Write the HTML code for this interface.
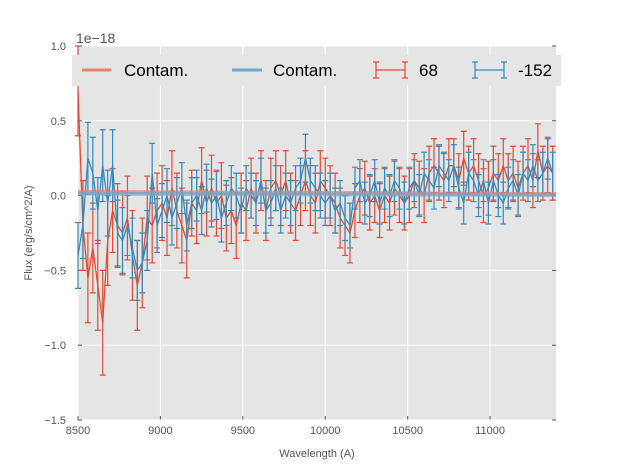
<!DOCTYPE html>
<html><head><meta charset="utf-8"><style>
body{margin:0;background:#fff;}
svg{display:block;font-family:"Liberation Sans",sans-serif;}
</style></head><body>
<svg id="c" width="617" height="467"></svg>
<script>
const xTicks=[8500,9000,9500,10000,10500,11000];
const yTicks=[-1.5,-1.0,-0.5,0.0,0.5,1.0];
const yTickLabels=["\u22121.5","\u22121.0","\u22120.5","0.0","0.5","1.0"];
const wlStart=8500, wlStep=30;
const redFlux=[0.7,-0.2,-0.55,-0.35,-0.6,-0.85,-0.3,-0.1,-0.2,-0.25,-0.15,-0.4,-0.6,-0.45,-0.15,-0.2,-0.1,-0.05,-0.15,0.05,-0.1,-0.2,-0.3,-0.05,-0.1,0.1,-0.05,0.05,-0.05,0.0,-0.15,-0.1,-0.2,-0.05,-0.1,0.05,-0.05,0.1,-0.1,0.05,0.1,0.0,0.1,-0.05,-0.1,0.0,0.1,0.0,-0.05,0.1,0.05,0.0,-0.05,-0.15,-0.2,-0.25,-0.1,0.0,0.05,-0.05,0.0,-0.1,0.0,-0.05,0.05,0.0,-0.05,0.0,0.1,0.05,0.0,0.15,0.2,0.15,0.1,0.2,0.2,0.1,0.25,0.15,0.2,0.1,0.0,0.05,0.15,0.1,0.2,0.1,0.15,0.05,0.15,0.2,0.1,0.3,0.15,0.2,0.15];
const redErr=[0.3,0.3,0.3,0.3,0.3,0.35,0.3,0.28,0.28,0.28,0.28,0.3,0.3,0.3,0.28,0.25,0.25,0.25,0.25,0.25,0.25,0.25,0.25,0.22,0.22,0.22,0.22,0.22,0.22,0.22,0.22,0.22,0.22,0.2,0.2,0.2,0.2,0.2,0.2,0.2,0.2,0.2,0.2,0.2,0.2,0.2,0.2,0.2,0.2,0.2,0.2,0.2,0.2,0.2,0.2,0.2,0.18,0.18,0.18,0.18,0.18,0.18,0.18,0.18,0.18,0.18,0.18,0.18,0.18,0.18,0.18,0.18,0.18,0.18,0.18,0.18,0.18,0.18,0.18,0.18,0.18,0.18,0.18,0.18,0.18,0.18,0.18,0.18,0.18,0.18,0.18,0.18,0.18,0.18,0.18,0.18,0.18];
const blueFlux=[-0.4,-0.2,0.25,0.15,-0.1,0.2,-0.05,0.2,-0.25,-0.3,-0.2,-0.35,-0.5,-0.45,-0.3,0.15,-0.2,-0.1,0.0,-0.15,-0.05,0.05,-0.2,-0.05,0.0,-0.1,0.05,-0.05,0.0,-0.15,-0.05,0.05,0.0,-0.1,0.05,0.0,-0.05,0.1,-0.1,-0.05,0.05,-0.1,0.0,-0.05,0.05,0.1,0.25,0.1,0.05,0.0,-0.05,0.0,-0.1,-0.05,-0.15,-0.2,0.05,0.1,-0.05,0.0,0.1,-0.05,0.05,0.0,0.1,0.05,-0.05,0.05,0.1,0.0,0.15,0.1,0.05,0.2,0.15,0.1,0.2,0.05,-0.05,0.15,0.1,0.0,0.1,-0.05,0.1,0.0,-0.05,0.05,0.1,0.0,0.15,0.1,0.2,0.1,0.15,0.25,0.15];
const blueErr=[0.22,0.22,0.24,0.24,0.22,0.24,0.22,0.24,0.22,0.22,0.2,0.2,0.2,0.2,0.2,0.2,0.18,0.18,0.18,0.18,0.17,0.17,0.17,0.17,0.17,0.16,0.16,0.16,0.16,0.16,0.15,0.15,0.15,0.15,0.15,0.15,0.15,0.15,0.15,0.15,0.15,0.15,0.15,0.15,0.15,0.15,0.16,0.15,0.15,0.15,0.15,0.15,0.15,0.15,0.15,0.15,0.14,0.14,0.14,0.14,0.14,0.14,0.14,0.14,0.14,0.14,0.14,0.14,0.14,0.14,0.14,0.14,0.14,0.14,0.14,0.14,0.14,0.14,0.14,0.14,0.14,0.14,0.14,0.14,0.14,0.14,0.14,0.14,0.14,0.14,0.14,0.14,0.14,0.14,0.14,0.14,0.14];
const redContam=[0.025,0.01];
const blueContam=[0.012,0.005];

const L=78,R=556,T=46,B=420;
const xMin=8500,xMax=11400,yMin=-1.5,yMax=1.0;
const X=v=>L+(v-xMin)/(xMax-xMin)*(R-L);
const Y=v=>B-(v-yMin)/(yMax-yMin)*(B-T);
const svg=document.getElementById('c');
const NS='http://www.w3.org/2000/svg';
function el(tag,attrs,parent){const e=document.createElementNS(NS,tag);for(const k in attrs)e.setAttribute(k,attrs[k]);(parent||svg).appendChild(e);return e;}

const bg=el('rect',{x:L,y:T,width:R-L,height:B-T,fill:'#e5e5e5'});



xTicks.forEach(t=>{
  const g=el('line',{x1:X(t),x2:X(t),y1:T,y2:B,stroke:'#fff','stroke-width':1});
  
  
  const tk=el('line',{x1:X(t),x2:X(t),y1:B,y2:B-4,stroke:'#555'});
  
  
  const tl=el('text',{x:X(t),y:B+14,'font-size':11,fill:'#555','text-anchor':'middle'});
  tl.textContent=t;
  
  
});
yTicks.forEach((t,i)=>{
  const g=el('line',{x1:L,x2:R,y1:Y(t),y2:Y(t),stroke:'#fff','stroke-width':1});
  
  
  const tk=el('line',{x1:L,x2:L+4,y1:Y(t),y2:Y(t),stroke:'#555'});
  
  
  const tk2=el('line',{x1:R,x2:R-4,y1:Y(t),y2:Y(t),stroke:'#555'});
  
  
  const tl=el('text',{x:L-12,y:Y(t)+4,'font-size':11,fill:'#555','text-anchor':'end'});
  tl.textContent=yTickLabels[i];
  
  
});

function contam(vals,color,name){
  const l=el('line',{x1:X(xMin),x2:X(xMax),y1:Y(vals[0]),y2:Y(vals[1]),stroke:color,'stroke-width':4,'stroke-opacity':0.7});
  
  
}
function series(flux,err,color,name){
  const g=el('g',{});
  
  
  let d='';
  flux.forEach((v,i)=>{
    const w=wlStart+i*wlStep,x=X(w),e=err[i]||0.14;
    d+=(i?'L':'M')+x.toFixed(1)+','+Y(v).toFixed(1);
    const y1=Y(v+e),y2=Y(v-e);
    const b=el('path',{d:`M${x},${y1}V${y2}M${x-3},${y1}H${x+3}M${x-3},${y2}H${x+3}`,stroke:color,'stroke-width':1.2,fill:'none'},g);
    
    
  });
  const p=el('path',{d:d,stroke:color,'stroke-width':1.3,fill:'none'},g);
  
  
}
series(redFlux,redErr,'#e24a33','series-68');
series(blueFlux,blueErr,'#348abd','series-neg152');
contam(redContam,'#e8806a','contam-line-red');
contam(blueContam,'#6aa8d0','contam-line-blue');

// legend
const lg=el('g',{});


el('rect',{x:72,y:55,width:489,height:31,fill:'#e5e5e5'},lg);
function lgText(x,t){const e=el('text',{x:x,y:76,'font-size':17,fill:'#000'},lg);e.textContent=t;}
const c1=el('line',{x1:82,x2:111,y1:70,y2:70,stroke:'#e8806a','stroke-width':3},lg);

lgText(124,'Contam.');
const c2=el('line',{x1:232,x2:262,y1:70,y2:70,stroke:'#6aa8d0','stroke-width':3},lg);

lgText(273,'Contam.');
const e1=el('path',{d:'M376,70H405M376,62V78M405,62V78M373,62H379M373,78H379M402,62H408M402,78H408',stroke:'#e24a33','stroke-width':1.2,fill:'none'},lg);

lgText(419,'68');
const e2=el('path',{d:'M475,70H504M475,62V78M504,62V78M472,62H478M472,78H478M501,62H507M501,78H507',stroke:'#348abd','stroke-width':1.2,fill:'none'},lg);

lgText(518,'-152');

const off=el('text',{x:76,y:43,'font-size':14,fill:'#555'});off.textContent='1e\u221218';

const xl=el('text',{x:(L+R)/2,y:457,'font-size':11,fill:'#555','text-anchor':'middle'});xl.textContent='Wavelength (A)';

const yl=el('text',{x:0,y:0,'font-size':11,fill:'#555','text-anchor':'middle',transform:`translate(32,${(T+B)/2}) rotate(-90)`});yl.textContent='Flux (erg/s/cm^2/A)';

</script>
</body></html>
